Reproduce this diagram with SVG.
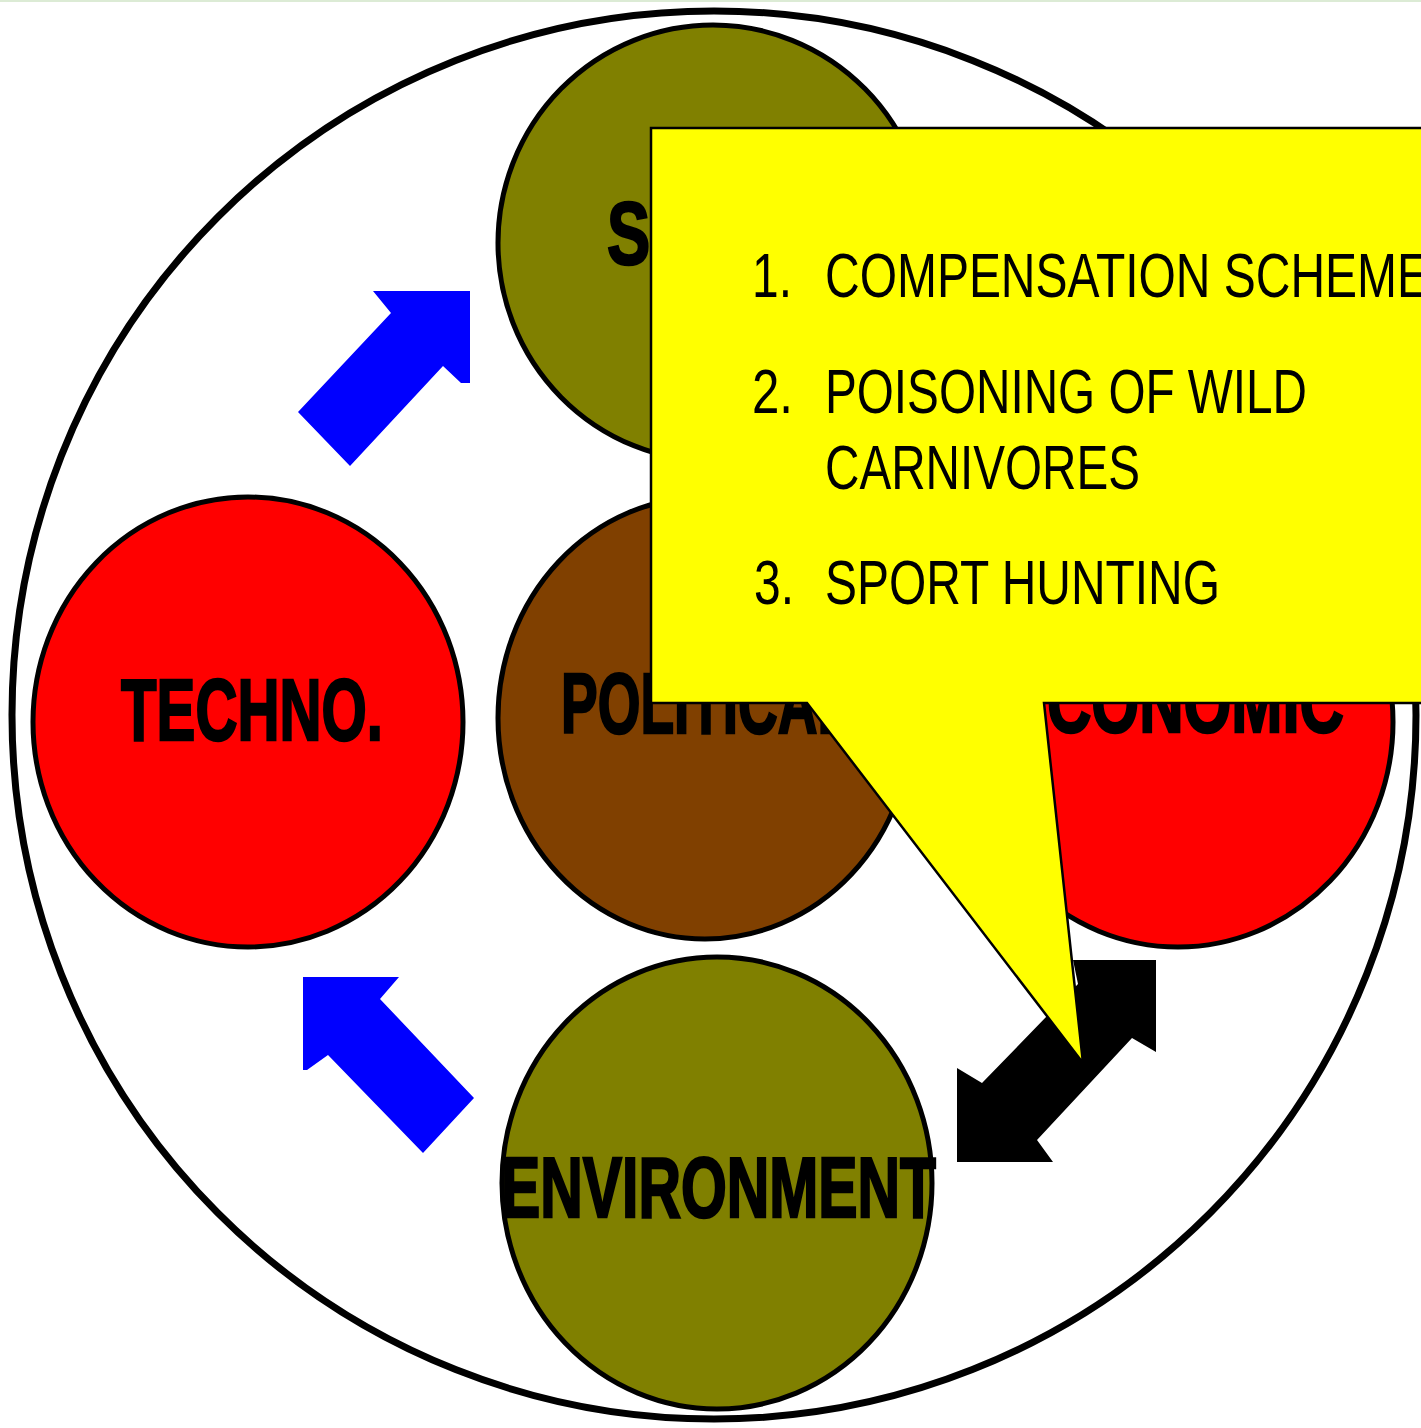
<svg xmlns="http://www.w3.org/2000/svg" width="1421" height="1428" viewBox="0 0 1421 1428">
<style>
.node{stroke:#000;stroke-width:5}
.olive{fill:#808000}
.red{fill:#FF0000}
.brown{fill:#804000}
.lbl{font-family:"Liberation Sans Narrow","Liberation Sans",Arial,sans-serif;font-weight:bold;fill:#000;stroke:#000;stroke-width:2.5;stroke-linejoin:miter}
.co{font-family:"Liberation Sans Narrow","Liberation Sans",Arial,sans-serif;font-size:63px;fill:#000}
</style>
<rect x="0" y="0" width="1421" height="1428" fill="#FFFFFF"/>
<rect x="0" y="0" width="1421" height="2" fill="#DCEBD5"/>
<g id="frame">
<ellipse cx="714" cy="715" rx="702" ry="704" fill="#FFFFFF" stroke="#000" stroke-width="7"/>
</g>
<g id="node-social">
<ellipse class="node olive" cx="713" cy="243" rx="215" ry="218"/>
<text class="lbl" x="607" y="264" font-size="89" textLength="245" lengthAdjust="spacingAndGlyphs">SOCIAL</text>
</g>
<g id="node-techno">
<ellipse class="node red" cx="248" cy="722" rx="215" ry="225"/>
<text class="lbl" x="121" y="740" font-size="87" textLength="262" lengthAdjust="spacingAndGlyphs">TECHNO.</text>
</g>
<g id="node-political">
<ellipse class="node brown" cx="705" cy="718" rx="207" ry="221"/>
<text class="lbl" x="561" y="733" font-size="86" textLength="290" lengthAdjust="spacingAndGlyphs">POLITICAL</text>
</g>
<g id="node-economic">
<ellipse class="node red" cx="1178" cy="722" rx="215" ry="225"/>
<text class="lbl" x="1006" y="732" font-size="86" textLength="338" lengthAdjust="spacingAndGlyphs">ECONOMIC</text>
</g>
<g id="node-environment">
<ellipse class="node olive" cx="717" cy="1183" rx="215" ry="226"/>
<text class="lbl" x="501" y="1217" font-size="86" textLength="435" lengthAdjust="spacingAndGlyphs">ENVIRONMENT</text>
</g>
<g id="connectors">
<polygon fill="#0000FF" points="470,291 470,383 461,383 443,366 350,466 298,412 391,313 373,291"/>
<polygon fill="#0000FF" points="303,977 399,977 380,999 474,1098 423,1153 328,1055 307,1070 303,1070"/>
<polygon fill="#000000" points="1156,960 1156,1052 1132,1038 1037,1140 1053,1162 957,1162 957,1068 982,1083 1078,984 1073,960"/>
</g>
<g id="callout">
<path d="M651,128 L1430,128 L1430,703 L1044,703 L1083,1063 L807,703 L651,703 Z" fill="#FFFF00" stroke="#000" stroke-width="2.5" stroke-linejoin="miter"/>
<text class="co" x="752" y="297" textLength="40" lengthAdjust="spacingAndGlyphs">1.</text>
<text class="co" x="825" y="297" textLength="604" lengthAdjust="spacingAndGlyphs">COMPENSATION SCHEME</text>
<text class="co" x="752" y="413" textLength="41" lengthAdjust="spacingAndGlyphs">2.</text>
<text class="co" x="825" y="413" textLength="482" lengthAdjust="spacingAndGlyphs">POISONING OF WILD</text>
<text class="co" x="825" y="489" textLength="315" lengthAdjust="spacingAndGlyphs">CARNIVORES</text>
<text class="co" x="754" y="604" textLength="40" lengthAdjust="spacingAndGlyphs">3.</text>
<text class="co" x="825" y="604" textLength="395" lengthAdjust="spacingAndGlyphs">SPORT HUNTING</text>
</g>
</svg>
